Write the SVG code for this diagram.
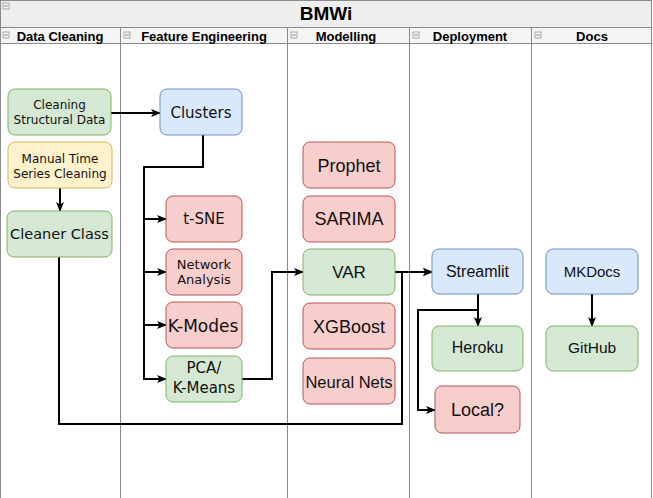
<svg xmlns="http://www.w3.org/2000/svg" width="653" height="498" viewBox="0 0 653 498">
<style>
.lane{fill:none;stroke:#8a8a8a;stroke-width:1}
.hdr{font-family:"Liberation Sans",Arial,sans-serif;font-weight:bold;font-size:13px;fill:#000;text-anchor:middle}
.title{font-family:"Liberation Sans",Arial,sans-serif;font-weight:bold;font-size:19px;fill:#000;text-anchor:middle}
.ico{fill:#f4f4f4;stroke:#9a9a9a;stroke-width:0.8}
.red{fill:#f8cecc;stroke:#b85450;stroke-width:1}
.green{fill:#d5e8d4;stroke:#82b366;stroke-width:1}
.blue{fill:#dae8fc;stroke:#6c8ebf;stroke-width:1}
.yellow{fill:#fff2cc;stroke:#d6b656;stroke-width:1}
.dv{font-family:"DejaVu Sans",Verdana,sans-serif;fill:#111;text-anchor:middle}
.hv{font-family:"Liberation Sans",Arial,sans-serif;fill:#111;text-anchor:middle}
.edge{fill:none;stroke:#000;stroke-width:2}
</style>
<defs>
<marker id="arr" markerWidth="10" markerHeight="10" refX="9" refY="5" orient="auto" markerUnits="userSpaceOnUse">
<path d="M0,1 L10,5 L0,9 L2.5,5 Z" fill="#000"/>
</marker>
</defs>
<rect x="0" y="0" width="653" height="498" fill="#fff"/>
<g id="pool">
<rect x="0.5" y="0.5" width="651" height="27" fill="#eeeeee" stroke="#8a8a8a"/>
<rect x="0.5" y="27.5" width="651" height="16" fill="#f4f4f4" stroke="#8a8a8a"/>
<line class="lane" x1="0.5" y1="27" x2="0.5" y2="498"/>
<line class="lane" x1="120.5" y1="27" x2="120.5" y2="498"/>
<line class="lane" x1="287.5" y1="27" x2="287.5" y2="498"/>
<line class="lane" x1="409.5" y1="27" x2="409.5" y2="498"/>
<line class="lane" x1="531.5" y1="27" x2="531.5" y2="498"/>
<line class="lane" x1="651.5" y1="27" x2="651.5" y2="498"/>
<rect class="ico" x="3" y="3" width="6" height="6"/><line x1="4" y1="6" x2="8" y2="6" stroke="#777" stroke-width="0.8"/>
<text class="title" x="326" y="20">BMWi</text>
<rect class="ico" x="3" y="32" width="6" height="6"/><line x1="4" y1="35" x2="8" y2="35" stroke="#777" stroke-width="0.8"/>
<rect class="ico" x="124" y="32" width="6" height="6"/><line x1="125" y1="35" x2="129" y2="35" stroke="#777" stroke-width="0.8"/>
<rect class="ico" x="291" y="32" width="6" height="6"/><line x1="292" y1="35" x2="296" y2="35" stroke="#777" stroke-width="0.8"/>
<rect class="ico" x="413" y="32" width="6" height="6"/><line x1="414" y1="35" x2="418" y2="35" stroke="#777" stroke-width="0.8"/>
<rect class="ico" x="535" y="32" width="6" height="6"/><line x1="536" y1="35" x2="540" y2="35" stroke="#777" stroke-width="0.8"/>
<text class="hdr" x="60" y="40.5">Data Cleaning</text>
<text class="hdr" x="204" y="40.5">Feature Engineering</text>
<text class="hdr" x="346" y="40.5">Modelling</text>
<text class="hdr" x="470" y="40.5">Deployment</text>
<text class="hdr" x="592" y="40.5">Docs</text>
</g>
<g id="connectors">
<path class="edge" d="M111,113 H160" marker-end="url(#arr)"/>
<path class="edge" d="M60,188 V211" marker-end="url(#arr)"/>
<path class="edge" d="M203,135 V167 H144 V379 H166" marker-end="url(#arr)"/>
<path class="edge" d="M144,219 H166" marker-end="url(#arr)"/>
<path class="edge" d="M144,272 H166" marker-end="url(#arr)"/>
<path class="edge" d="M144,325 H166" marker-end="url(#arr)"/>
<path class="edge" d="M242,379 H272 V272 H303" marker-end="url(#arr)"/>
<path class="edge" d="M395,272 H432" stroke-width="1.5" marker-end="url(#arr)"/>
<path class="edge" d="M59,257 V424 H402 V272 H432" marker-end="url(#arr)"/>
<path class="edge" d="M478,294 V326" marker-end="url(#arr)"/>
<path class="edge" d="M478,294 V310 H418 V410 H435" marker-end="url(#arr)"/>
<path class="edge" d="M592,294 V326" marker-end="url(#arr)"/>
</g>
<g id="csd"><rect class="green" x="8" y="89" width="103" height="46" rx="7"/><text class="dv" font-size="12" x="59.5" y="109">Cleaning</text><text class="dv" font-size="12" x="59.5" y="124">Structural Data</text></g>
<g id="mtsc"><rect class="yellow" x="8" y="142" width="104" height="46" rx="7"/><text class="dv" font-size="12" x="60" y="163">Manual Time</text><text class="dv" font-size="12" x="60" y="178">Series Cleaning</text></g>
<g id="cleaner"><rect class="green" x="7" y="211" width="105" height="46" rx="7"/><text class="dv" font-size="14.5" x="59.5" y="239">Cleaner Class</text></g>
<g id="clusters"><rect class="blue" x="160" y="89" width="82" height="46" rx="7"/><text class="dv" font-size="15" x="201" y="118">Clusters</text></g>
<g id="tsne"><rect class="red" x="166" y="196" width="76" height="46" rx="7"/><text class="dv" font-size="15" x="204" y="224">t-SNE</text></g>
<g id="network"><rect class="red" x="166" y="249" width="76" height="46" rx="7"/><text class="dv" font-size="13" x="204" y="269">Network</text><text class="dv" font-size="13" x="204" y="284">Analysis</text></g>
<g id="kmodes"><rect class="red" x="166" y="302" width="76" height="46" rx="7"/><text class="dv" font-size="17" x="203" y="332">K-Modes</text></g>
<g id="pca"><rect class="green" x="166" y="356" width="76" height="46" rx="7"/><text class="dv" font-size="15" x="204" y="373">PCA/</text><text class="dv" font-size="15" x="204" y="393">K-Means</text></g>
<g id="prophet"><rect class="red" x="303" y="142" width="92" height="46" rx="7"/><text class="hv" font-size="18" x="349" y="172">Prophet</text></g>
<g id="sarima"><rect class="red" x="303" y="196" width="92" height="46" rx="7"/><text class="hv" font-size="18" x="349" y="225">SARIMA</text></g>
<g id="var"><rect class="green" x="303" y="249" width="92" height="46" rx="7"/><text class="hv" font-size="17" x="349" y="278">VAR</text></g>
<g id="xgboost"><rect class="red" x="303" y="303" width="92" height="46" rx="7"/><text class="hv" font-size="18" x="349" y="333">XGBoost</text></g>
<g id="neural"><rect class="red" x="303" y="358" width="92" height="46" rx="7"/><text class="hv" font-size="16.5" x="349" y="388">Neural Nets</text></g>
<g id="streamlit"><rect class="blue" x="432" y="249" width="91" height="45" rx="7"/><text class="hv" font-size="16" x="477.5" y="277">Streamlit</text></g>
<g id="heroku"><rect class="green" x="432" y="326" width="91" height="45" rx="7"/><text class="hv" font-size="16" x="477.5" y="353">Heroku</text></g>
<g id="local"><rect class="red" x="435" y="386" width="85" height="47" rx="7"/><text class="hv" font-size="18" x="477.5" y="416">Local?</text></g>
<g id="mkdocs"><rect class="blue" x="546" y="249" width="92" height="45" rx="7"/><text class="hv" font-size="15" x="592" y="277">MKDocs</text></g>
<g id="github"><rect class="green" x="546" y="326" width="92" height="45" rx="7"/><text class="hv" font-size="15.5" x="592" y="353">GitHub</text></g>
</svg>
